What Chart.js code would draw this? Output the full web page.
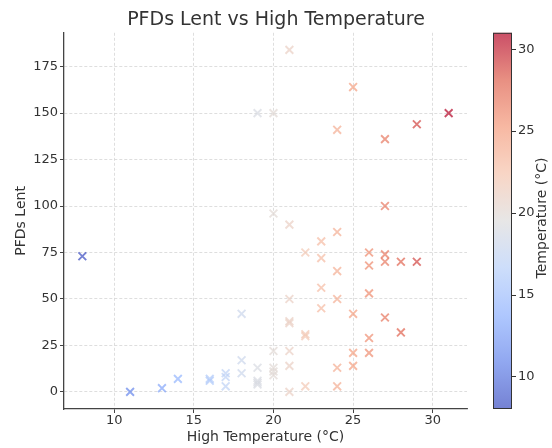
<!DOCTYPE html>
<html>
<head>
<meta charset="utf-8">
<script src="https://cdn.jsdelivr.net/npm/chart.js@4"></script>
<style>
  html, body { margin: 0; padding: 0; background: #fff; }
</style>
</head>
<body>
<canvas id="chart" width="552" height="448"></canvas>
<script>
// high temperature (x, also the colour value) and PFDs lent (y)
const highTemp = [8, 11, 13, 14, 16, 16, 17, 17, 17, 18, 18, 18,
  19, 19, 19, 19, 19, 20, 20, 20, 20, 20, 20,
  21, 21, 21, 21, 21, 21, 21, 21, 22, 22, 22, 22,
  23, 23, 23, 23, 24, 24, 24, 24, 24, 24,
  25, 25, 25, 25, 26, 26, 26, 26, 26,
  27, 27, 27, 27, 27, 28, 28, 29, 29, 31];
const pfdsLent = [73, 0, 2, 7, 6, 7, 3, 8, 10, 10, 17, 42,
  150, 13, 6, 5, 4, 150, 96, 22, 13, 11, 9,
  184, 90, 50, 38, 37, 22, 14, 0, 75, 31, 30, 3,
  81, 72, 56, 45, 141, 86, 65, 50, 13, 3,
  164, 42, 21, 14, 75, 68, 53, 29, 21,
  136, 100, 74, 70, 40, 70, 32, 144, 70, 150];

const xTicks = [10, 15, 20, 25, 30];
const yTicks = [0, 25, 50, 75, 100, 125, 150, 175];
const cbTicks = [10, 15, 20, 25, 30];

const tMin = 8, tMax = 31;

// coolwarm samples
const coolwarm = [
  [58, 76, 192], [98, 130, 234], [141, 176, 254], [184, 208, 249],
  [221, 220, 220], [245, 196, 173], [244, 154, 123], [222, 96, 77], [180, 4, 38]
];

function coolwarmColor(t, alpha) {
  let f = (t - tMin) / (tMax - tMin);
  f = Math.max(0, Math.min(1, f)) * (coolwarm.length - 1);
  const i = Math.min(Math.floor(f), coolwarm.length - 2);
  const k = f - i;
  const a = coolwarm[i], b = coolwarm[i + 1];
  const c = a.map((v, j) => Math.round(v + (b[j] - v) * k));
  return `rgba(${c[0]}, ${c[1]}, ${c[2]}, ${alpha})`;
}

const font = "'DejaVu Sans', sans-serif";
const textColor = "#333";

const colorbarPlugin = {
  id: "colorbar",
  afterDraw(chart) {
    const cb = chart.scales.cb;
    const ctx = chart.ctx;
    const left = cb.left, w = 19;
    const top = cb.top, bottom = cb.bottom;

    ctx.save();
    const grad = ctx.createLinearGradient(0, bottom, 0, top);
    for (let i = 0; i <= 32; i++) {
      grad.addColorStop(i / 32, coolwarmColor(tMin + (i / 32) * (tMax - tMin), 0.7));
    }
    ctx.fillStyle = grad;
    ctx.fillRect(left, top, w, bottom - top);
    ctx.strokeStyle = "#333";
    ctx.lineWidth = 1;
    ctx.strokeRect(left + 0.5, top + 0.5, w - 1, bottom - top - 1);

    ctx.beginPath();
    cb.ticks.forEach(t => {
      const y = Math.round(cb.getPixelForValue(t.value)) + 0.5;
      ctx.moveTo(left + w, y);
      ctx.lineTo(left + w + 4, y);
    });
    ctx.stroke();

    ctx.translate(left + 49, 218);
    ctx.rotate(-Math.PI / 2);
    ctx.fillStyle = textColor;
    ctx.font = "14px " + font;
    ctx.textAlign = "center";
    ctx.textBaseline = "middle";
    ctx.fillText("Temperature (°C)", 0, 0);
    ctx.restore();
  }
};

const points = highTemp.map((x, i) => ({ x: x, y: pfdsLent[i] }));

new Chart(document.getElementById("chart"), {
  type: "scatter",
  data: {
    datasets: [
      {
        data: points,
        pointStyle: "crossRot",
        pointRadius: 5.5,
        borderWidth: 1.9,
        borderColor: ctx => coolwarmColor(highTemp[ctx.dataIndex], 0.7),
        backgroundColor: ctx => coolwarmColor(highTemp[ctx.dataIndex], 0.7)
      }
    ]
  },
  options: {
    responsive: false,
    animation: false,
    events: [],
    layout: { padding: 0 },
    plugins: {
      legend: { display: false },
      tooltip: { enabled: false },
      title: {
        display: true,
        text: "PFDs Lent vs High Temperature",
        color: textColor,
        font: { family: font, size: 19, weight: "normal" },
        padding: { top: 9, bottom: 1 }
      }
    },
    scales: {
      x: {
        type: "linear",
        min: 6.85,
        max: 32.15,
        afterBuildTicks: s => { s.ticks = xTicks.map(v => ({ value: v })); },
        afterFit: s => { s.height = 39; },
        ticks: {
          color: textColor,
          font: { family: font, size: 13 },
          padding: 0,
          maxRotation: 0
        },
        grid: {
          color: "#d6d6d6",
          lineWidth: 0.8,
          tickLength: 4,
          tickColor: "#444",
          tickWidth: 1
        },
        border: { color: "#444", width: 1.3, dash: [3, 2] },
        title: {
          display: true,
          text: "High Temperature (°C)",
          color: textColor,
          font: { family: font, size: 14 },
          padding: { top: 0, bottom: 2.6 }
        }
      },
      y: {
        type: "linear",
        min: -9.2,
        max: 193.2,
        afterBuildTicks: s => { s.ticks = yTicks.map(v => ({ value: v })); },
        afterFit: s => { s.width = 64; },
        ticks: {
          color: textColor,
          font: { family: font, size: 13 },
          padding: 2
        },
        grid: {
          color: "#d6d6d6",
          lineWidth: 0.8,
          tickLength: 4,
          tickColor: "#444",
          tickWidth: 1
        },
        border: { color: "#444", width: 1.3, dash: [3, 2] },
        title: {
          display: true,
          text: "PFDs Lent",
          color: textColor,
          font: { family: font, size: 14 },
          padding: { top: 12.5, bottom: 0 }
        }
      },
      gap: {
        type: "linear",
        position: "right",
        weight: 0,
        min: 0,
        max: 1,
        afterFit: s => { s.width = 26; },
        ticks: { display: false },
        grid: { display: false },
        border: { display: false }
      },
      cb: {
        type: "linear",
        position: "right",
        weight: 1,
        min: tMin,
        max: tMax,
        afterBuildTicks: s => { s.ticks = cbTicks.map(v => ({ value: v })); },
        afterFit: s => { s.width = 59; },
        ticks: {
          color: textColor,
          font: { family: font, size: 13 },
          padding: 17
        },
        grid: { display: false },
        border: { display: false }
      }
    }
  },
  plugins: [colorbarPlugin]
});
</script>
</body>
</html>
